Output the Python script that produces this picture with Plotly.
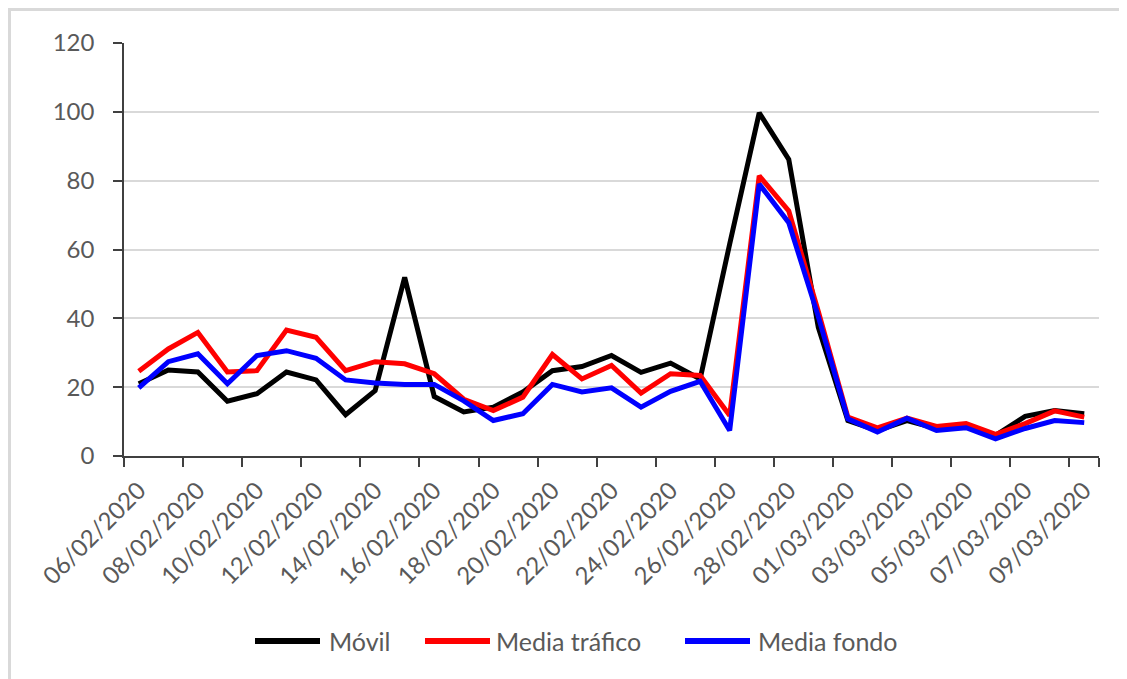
import plotly.graph_objects as go

fechas = ["06/02/2020", "07/02/2020", "08/02/2020", "09/02/2020", "10/02/2020", "11/02/2020",
          "12/02/2020", "13/02/2020", "14/02/2020", "15/02/2020", "16/02/2020", "17/02/2020",
          "18/02/2020", "19/02/2020", "20/02/2020", "21/02/2020", "22/02/2020", "23/02/2020",
          "24/02/2020", "25/02/2020", "26/02/2020", "27/02/2020", "28/02/2020", "29/02/2020",
          "01/03/2020", "02/03/2020", "03/03/2020", "04/03/2020", "05/03/2020", "06/03/2020",
          "07/03/2020", "08/03/2020", "09/03/2020"]

movil = [21.0, 25.0, 24.4, 15.9, 18.1, 24.4, 22.1, 12.0, 19.0, 51.9, 17.3,
         12.8, 14.2, 18.6, 24.8, 26.0, 29.2, 24.3, 27.0, 22.4, 61.6, 99.7,
         86.2, 37.4, 10.3, 7.4, 10.3, 8.0, 8.5, 6.0, 11.5, 13.2, 12.3]

media_trafico = [24.6, 31.1, 35.9, 24.4, 24.8, 36.6, 34.5, 24.8, 27.4, 26.8, 23.9,
                 16.5, 13.2, 17.1, 29.5, 22.4, 26.3, 18.3, 23.9, 23.4, 11.8, 81.4,
                 71.2, 42.0, 11.3, 8.2, 11.0, 8.6, 9.4, 6.3, 9.4, 13.1, 11.3]

media_fondo = [19.8, 27.4, 29.7, 21.0, 29.2, 30.6, 28.4, 22.1, 21.2, 20.8, 20.8,
               16.0, 10.3, 12.3, 20.8, 18.6, 19.8, 14.2, 18.8, 21.7, 7.4, 79.0,
               67.8, 40.5, 10.8, 7.0, 11.0, 7.4, 8.2, 5.0, 8.0, 10.3, 9.7]

series = [("Móvil", movil, "#000000"),
          ("Media tráfico", media_trafico, "#FF0000"),
          ("Media fondo", media_fondo, "#0000FF")]

font_col = "#595959"
OFF = 8  # default page body margin
W, H = 1127 - OFF, 679 - OFF
L, R, T, B = 124 - OFF, 28, 43 - OFF, 223
pw = W - L - R
ph = H - T - B


def px(x):
    """page x pixel -> paper coordinate"""
    return (x - OFF - L) / pw


def py(y):
    """page y pixel -> paper coordinate"""
    return (H - B - (y - OFF)) / ph


fig = go.Figure()
for name, vals, col in series:
    fig.add_trace(go.Scatter(x=fechas, y=vals, mode="lines", name=name,
                             line=dict(color=col, width=5)))

# legend drawn to match the reference's long line samples
legend_items = [(255, 320, 327), (425, 490, 494), (685, 750, 756)]
shapes = [
    dict(type="line", xref="paper", yref="paper", x0=px(9.5), x1=px(9.5),
         y0=py(8), y1=py(700), line=dict(color="#d9d9d9", width=3)),
    dict(type="line", xref="paper", yref="paper", x0=px(8), x1=px(1140),
         y0=py(9.5), y1=py(9.5), line=dict(color="#d9d9d9", width=3)),
]
annotations = []
for (x0, x1, xt), (name, vals, col) in zip(legend_items, series):
    shapes.append(dict(type="line", xref="paper", yref="paper", x0=px(x0), x1=px(x1),
                       y0=py(641), y1=py(641), line=dict(color=col, width=6)))
    annotations.append(dict(text=name, xref="paper", yref="paper", x=px(xt), y=py(641),
                            xanchor="left", yanchor="middle", showarrow=False,
                            font=dict(size=25, color=font_col)))

fig.update_layout(
    width=W, height=H,
    margin=dict(l=L, r=R, t=T, b=B, pad=0),
    paper_bgcolor="white", plot_bgcolor="white",
    font=dict(family="Lato, Carlito, Calibri, sans-serif", color=font_col, size=24),
    showlegend=False,
    xaxis=dict(type="category", range=[-0.5, len(fechas) - 0.5],
               tickmode="array", tickvals=fechas[::2], ticktext=fechas[::2],
               tickson="boundaries", ticks="outside", ticklen=9, tickwidth=1.5,
               tickcolor="#404040", showline=True, linecolor="#404040", linewidth=1.5,
               showgrid=False, tickangle=-45, ticklabelstandoff=9,
               tickfont=dict(size=24, color=font_col)),
    yaxis=dict(range=[0, 120], dtick=20, tick0=0, ticks="outside", ticklen=9,
               tickwidth=1.5, tickcolor="#404040", showline=True, linecolor="#404040",
               linewidth=1.5, showgrid=True, gridcolor="#d9d9d9", gridwidth=1.5,
               zeroline=False, ticklabelstandoff=14,
               tickfont=dict(size=24, color=font_col)),
    shapes=shapes,
    annotations=annotations,
)

fig.write_html("out.html")
